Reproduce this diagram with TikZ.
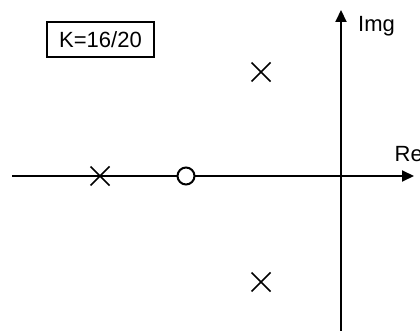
\documentclass[tikz,border=0pt]{standalone}
\usepackage{fontspec}
\setmainfont{Liberation Sans}
\usetikzlibrary{arrows.meta,shapes.misc}
\begin{document}
\begin{tikzpicture}[x=1pt,y=-1pt,
  axis/.style={line width=2pt,-{Triangle[length=12pt,width=11pt]}},
  pole/.style={cross out,draw,line width=1.6pt,minimum size=19pt,inner sep=0pt,outer sep=0pt},
  zero/.style={circle,draw,fill=white,line width=2pt,minimum size=17pt,inner sep=0pt},
  lbl/.style={font=\fontsize{22}{26}\selectfont,inner sep=0pt},
  kbox/.style={draw,line width=1.2pt,minimum width=107pt,minimum height=35pt,font=\fontsize{22}{26}\selectfont,inner sep=0pt}]
\useasboundingbox (0,0) rectangle (420,331);
\coordinate (xs) at (12,176);
\coordinate (xe) at (414,176);
\coordinate (ys) at (341,335);
\coordinate (ye) at (341,10);
\draw[axis] (xs) -- (xe);
\draw[axis] (ys) -- (ye);
\node[kbox] (k) at (100.5,39.5) {K=16/20};
\node[lbl,anchor=base west] (img) at (358,31.7) {Img};
\node[lbl,anchor=base west] (re) at (394.5,161.7) {Re};
\node[pole] (p1) at (261,72) {};
\node[pole] (p2) at (261,282) {};
\node[pole] (p3) at (100,176) {};
\node[zero] (z1) at (186,176) {};
\end{tikzpicture}
\end{document}
